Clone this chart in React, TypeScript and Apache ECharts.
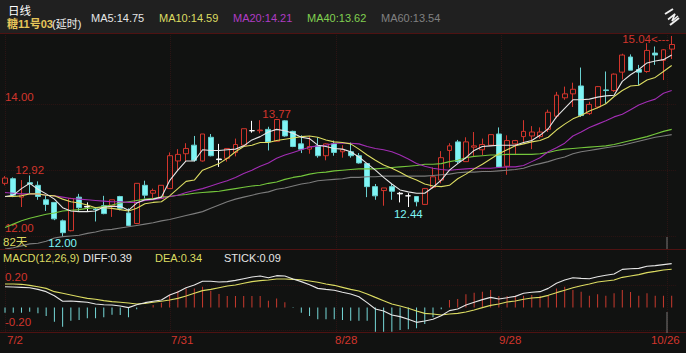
import React, { useEffect, useRef } from "react";
import * as echarts from "echarts";

const opens = [12.80,12.87,12.59,12.81,12.77,12.55,12.51,12.23,12.08,12.59,
  12.45,12.41,12.46,12.46,12.60,12.35,12.19,12.77,12.65,12.57,
  12.72,13.14,13.25,13.38,13.14,13.50,13.17,13.18,13.27,13.38,
  13.60,13.60,13.62,13.44,13.75,13.59,13.40,13.32,13.37,13.22,
  13.40,13.28,13.28,13.22,13.10,12.75,12.69,12.75,12.65,12.61,
  12.60,12.48,12.74,12.85,13.30,13.43,13.13,13.35,13.31,13.38,
  13.55,13.06,13.40,13.51,13.52,13.51,13.62,13.82,14.10,14.16,
  14.28,13.86,13.96,14.22,14.21,14.49,14.72,14.53,14.50,14.78,
  14.67,14.84];
const closes = [12.88,12.62,12.62,12.79,12.60,12.48,12.26,12.05,12.57,12.43,
  12.44,12.40,12.34,12.55,12.42,12.16,12.80,12.62,12.69,12.77,
  13.22,13.24,13.33,13.15,13.55,13.22,13.16,13.33,13.39,13.63,
  13.60,13.61,13.43,13.77,13.52,13.36,13.32,13.36,13.22,13.40,
  13.27,13.31,13.22,13.11,12.75,12.61,12.73,12.68,12.64,12.61,
  12.52,12.72,12.90,13.19,13.37,13.13,13.43,13.37,13.39,13.54,
  13.05,13.45,13.45,13.59,13.58,13.58,13.88,14.14,14.16,14.23,
  13.83,14.00,14.27,14.21,14.46,14.75,14.52,14.49,14.82,14.75,
  14.83,14.91];
const lows = [12.77,12.59,12.44,12.65,12.55,12.38,12.24,12.00,12.07,12.38,
  12.37,12.22,12.33,12.29,12.39,12.15,12.18,12.57,12.57,12.57,
  12.72,12.99,13.13,13.13,13.13,13.21,13.05,13.13,13.21,13.38,
  13.57,13.56,13.30,13.44,13.51,13.35,13.26,13.25,13.19,13.15,
  13.22,13.19,13.19,13.10,12.59,12.55,12.46,12.55,12.51,12.44,
  12.45,12.47,12.72,12.80,13.04,13.10,13.13,13.21,13.23,13.38,
  13.05,12.93,13.23,13.43,13.32,13.48,13.58,13.79,14.07,13.96,
  13.81,13.84,13.94,14.01,14.19,14.38,14.52,14.29,14.48,14.60,
  14.37,14.69];
const highs = [12.91,12.89,12.85,12.92,12.83,12.62,12.51,12.25,12.58,12.64,
  12.51,12.43,12.61,12.55,12.61,12.42,12.80,12.84,12.72,12.77,
  13.27,13.32,13.41,13.52,13.55,13.55,13.40,13.33,13.48,13.63,
  13.75,13.76,13.66,13.77,13.76,13.60,13.53,13.51,13.50,13.41,
  13.45,13.38,13.42,13.26,13.10,12.79,12.73,12.79,12.67,12.65,
  12.60,12.73,13.04,13.29,13.41,13.46,13.50,13.58,13.48,13.54,
  13.65,13.53,13.46,13.76,13.67,13.65,13.92,14.19,14.27,14.33,
  14.56,14.04,14.28,14.50,14.47,14.77,14.76,14.60,14.93,14.88,
  14.84,15.04];
const whiteDoji = [10, 26, 30, 48, 49];

const ma5 = [12.60,12.62,12.72,12.80,12.71,12.64,12.56,12.43,12.38,12.37,
  12.37,12.38,12.44,12.45,12.45,12.39,12.50,12.55,12.56,12.59,
  12.84,13.00,13.14,13.14,13.31,13.30,13.30,13.31,13.32,13.37,
  13.46,13.51,13.58,13.62,13.60,13.56,13.50,13.48,13.38,13.36,
  13.33,13.32,13.28,13.20,13.10,13.00,12.89,12.79,12.70,12.67,
  12.65,12.65,12.74,12.85,13.00,13.10,13.19,13.30,13.36,13.37,
  13.38,13.38,13.38,13.42,13.45,13.53,13.63,13.81,13.94,14.07,
  14.07,14.08,14.11,14.13,14.14,14.35,14.45,14.53,14.63,14.66,
  14.68,14.75];
const ma10 = [12.60,12.60,12.61,12.64,12.64,12.62,12.61,12.56,12.52,12.50,
  12.47,12.43,12.43,12.42,12.40,12.38,12.42,12.49,12.51,12.52,
  12.61,12.72,12.83,12.85,13.00,13.05,13.10,13.18,13.28,13.36,
  13.38,13.42,13.42,13.45,13.47,13.49,13.51,13.52,13.50,13.46,
  13.43,13.42,13.40,13.32,13.23,13.15,13.08,13.03,12.97,12.90,
  12.85,12.79,12.76,12.75,12.77,12.87,12.94,13.02,13.09,13.17,
  13.25,13.31,13.37,13.40,13.43,13.45,13.50,13.61,13.70,13.78,
  13.83,13.90,13.95,14.01,14.12,14.21,14.28,14.29,14.37,14.41,
  14.50,14.59];
const ma20 = [12.66,12.65,12.64,12.64,12.64,12.62,12.61,12.59,12.57,12.56,
  12.55,12.54,12.53,12.52,12.52,12.51,12.51,12.54,12.55,12.57,
  12.60,12.62,12.66,12.69,12.72,12.76,12.80,12.84,12.89,12.95,
  13.00,13.06,13.11,13.18,13.23,13.27,13.31,13.35,13.37,13.38,
  13.41,13.41,13.41,13.40,13.36,13.33,13.31,13.28,13.23,13.17,
  13.10,13.06,13.03,13.01,13.00,13.01,13.02,13.03,13.03,13.03,
  13.04,13.05,13.05,13.07,13.13,13.19,13.28,13.34,13.41,13.52,
  13.58,13.65,13.70,13.75,13.81,13.85,13.92,13.99,14.04,14.08,
  14.17,14.21];
const ma40 = [12.13,12.18,12.23,12.27,12.30,12.33,12.35,12.38,12.39,12.40,
  12.42,12.43,12.45,12.47,12.50,12.52,12.54,12.56,12.57,12.59,
  12.60,12.62,12.63,12.65,12.66,12.67,12.68,12.70,12.72,12.74,
  12.76,12.77,12.80,12.82,12.86,12.89,12.91,12.94,12.96,12.97,
  12.99,13.00,13.01,13.02,13.02,13.02,13.03,13.04,13.05,13.06,
  13.07,13.09,13.09,13.10,13.13,13.15,13.19,13.21,13.22,13.23,
  13.23,13.24,13.24,13.24,13.24,13.25,13.27,13.30,13.32,13.33,
  13.34,13.35,13.36,13.37,13.39,13.42,13.45,13.48,13.51,13.55,
  13.59,13.62];
const ma60 = [11.80,11.82,11.85,11.88,11.89,11.92,11.97,11.99,12.00,12.01,
  12.04,12.06,12.09,12.10,12.12,12.14,12.16,12.18,12.20,12.23,
  12.25,12.28,12.31,12.34,12.37,12.42,12.47,12.52,12.56,12.59,
  12.62,12.65,12.67,12.71,12.73,12.76,12.79,12.81,12.84,12.85,
  12.86,12.87,12.89,12.89,12.90,12.90,12.91,12.91,12.91,12.91,
  12.91,12.91,12.92,12.93,12.94,12.96,12.97,12.97,12.98,12.98,
  12.99,13.00,13.01,13.03,13.07,13.10,13.13,13.17,13.20,13.25,
  13.28,13.30,13.32,13.34,13.36,13.38,13.41,13.44,13.47,13.50,
  13.52,13.54];

const stick = [-0.046,-0.046,-0.046,-0.037,-0.052,-0.076,-0.126,-0.17,-0.117,-0.111,
  -0.096,-0.096,-0.087,-0.064,-0.067,-0.087,-0.016,0.003,0.022,0.043,
  0.111,0.15,0.17,0.17,0.185,0.15,0.12,0.102,0.102,0.102,
  0.102,0.102,0.06,0.08,0.046,-0.004,-0.046,-0.076,-0.105,-0.105,
  -0.105,-0.111,-0.117,-0.117,-0.117,-0.215,-0.215,-0.215,-0.2,-0.194,
  -0.185,-0.147,-0.087,-0.016,0.067,0.076,0.117,0.132,0.141,0.156,
  0.102,0.102,0.105,0.105,0.111,0.105,0.111,0.17,0.185,0.156,
  0.141,0.105,0.117,0.105,0.126,0.156,0.138,0.105,0.126,0.105,
  0.105,0.105];
const diff = [0.185,0.182,0.179,0.176,0.161,0.141,0.105,0.055,0.058,0.052,
  0.046,0.031,0.025,0.022,0.013,-0.001,0.025,0.043,0.055,0.067,
  0.111,0.138,0.176,0.2,0.233,0.233,0.227,0.23,0.241,0.256,
  0.271,0.28,0.265,0.283,0.28,0.253,0.23,0.203,0.17,0.161,
  0.153,0.135,0.12,0.096,0.043,-0.013,-0.031,-0.067,-0.081,-0.105,
  -0.132,-0.12,-0.105,-0.073,-0.028,-0.013,0.022,0.046,0.07,0.09,
  0.076,0.087,0.099,0.126,0.135,0.141,0.17,0.215,0.244,0.265,
  0.259,0.256,0.274,0.286,0.298,0.339,0.345,0.348,0.366,0.372,
  0.381,0.39];
const dea = [0.209,0.209,0.206,0.197,0.185,0.17,0.141,0.126,0.111,0.096,
  0.081,0.073,0.061,0.052,0.046,0.04,0.031,0.037,0.046,0.055,
  0.067,0.081,0.102,0.126,0.15,0.161,0.176,0.191,0.2,0.215,
  0.23,0.239,0.244,0.253,0.253,0.25,0.247,0.236,0.224,0.209,
  0.197,0.179,0.161,0.147,0.12,0.09,0.061,0.031,0.013,-0.007,
  -0.031,-0.052,-0.058,-0.067,-0.058,-0.052,-0.04,-0.022,-0.001,0.019,
  0.031,0.049,0.058,0.073,0.084,0.09,0.108,0.132,0.153,0.176,
  0.194,0.209,0.227,0.236,0.244,0.268,0.28,0.292,0.31,0.321,
  0.333,0.34];

const xTickLabels = ["7/2", "7/31", "8/28", "9/28", "10/26"];
const xLabelAt = [0.012, 1.003, 1.994, 2.985, 3.903];
const priceLabels = [12, 14];
const macdLabels = [-0.2, 0.2];

const RED = "#d2352c";
const CYAN = "#7ff5f5";
const WHITE = "#e6e6e6";
const YELLOW = "#dcdc62";
const PURPLE = "#a22db4";
const GREEN = "#74c63c";
const GRAY = "#7c7c7c";
const FONT = "'Liberation Sans','Noto Sans CJK SC',sans-serif";
const GRID_DOT = "#2c1414";
const GRID_SOLID = "#4e1212";

const categories = opens.map((_, i) => String(i));

function label(text: string, x: number, y: number, fill: string, fontSize = 11, fontWeight = "normal") {
  return {
    type: "text",
    x,
    y,
    z: 10,
    style: { text, fill, fontSize, fontWeight, fontFamily: FONT, textVerticalAlign: "middle" },
  };
}
function rule(x1: number, y1: number, x2: number, y2: number, stroke: string, lineWidth = 1) {
  return { type: "line", z: 5, shape: { x1, y1, x2, y2 }, style: { stroke, lineWidth } };
}

export default function App() {
  const ref = useRef<HTMLDivElement>(null);
  useEffect(() => {
    const chart = echarts.init(ref.current!, null, { renderer: "svg" });
    const candleData = opens.map((o, i) => {
      const value = [o, closes[i], lows[i], highs[i]];
      if (whiteDoji.includes(i)) {
        return { value, itemStyle: { color: "#ffffff", color0: "#ffffff", borderColor: "#ffffff", borderColor0: "#ffffff" } };
      }
      return { value };
    });
    const mark = (idx: number, val: number, text: string, color: string, position: string, extra = {}) => ({
      coord: [idx, val],
      value: val,
      label: { show: true, formatter: text, color, position, distance: 0, fontSize: 11.5, fontFamily: FONT, ...extra },
    });
    const lineSeries = (name: string, data: number[], color: string, x: number, width = 1.1) => ({
      name,
      type: "line",
      data,
      xAxisIndex: x,
      yAxisIndex: x,
      showSymbol: false,
      symbol: "none",
      silent: true,
      lineStyle: { color, width },
      z: 4,
    });
    chart.setOption({
      animation: false,
      backgroundColor: "#111211",
      textStyle: { fontFamily: FONT },
      grid: [
        { left: 0.9, width: 674.9, top: 33, height: 216 },
        { left: 0.9, width: 674.9, top: 249, height: 83.5 },
        { left: 5, width: 662, top: 33, height: 299.5 },
      ],
      xAxis: [
        { type: "category", gridIndex: 0, data: categories, axisLine: { show: false }, axisTick: { show: false }, axisLabel: { show: false }, splitLine: { show: false } },
        { type: "category", gridIndex: 1, data: categories, axisLine: { show: false }, axisTick: { show: false }, axisLabel: { show: false }, splitLine: { show: false } },
        {
          type: "value", gridIndex: 2, min: 0, max: 4, interval: 1,
          axisLine: { show: false }, axisTick: { show: false },
          splitLine: { show: true, lineStyle: { color: GRID_DOT, type: "dotted", width: 1 } },
          axisLabel: {
            show: true,
            customValues: xLabelAt,
            formatter: (v: number) => xTickLabels[xLabelAt.indexOf(v)],
            color: RED, fontSize: 11.5, align: "left", margin: 2,
          },
        },
      ],
      yAxis: [
        {
          type: "value", gridIndex: 0, min: 11.802, max: 15.085,
          axisLine: { show: false },
          axisTick: { show: false, customValues: [12, 13, 14] },
          splitLine: { show: true, lineStyle: { color: GRID_DOT, type: "dotted", width: 1 } },
          axisLabel: {
            show: true, inside: true, margin: 4, customValues: priceLabels,
            formatter: (v: number) => v.toFixed(2),
            color: RED, fontSize: 11.5, verticalAlign: "bottom", padding: [0, 0, 2, 0],
          },
        },
        {
          type: "value", gridIndex: 1, min: -0.2222, max: 0.52,
          axisLine: { show: false },
          axisTick: { show: false, customValues: macdLabels },
          splitLine: { show: true, lineStyle: { color: GRID_DOT, type: "dotted", width: 1 } },
          axisLabel: {
            show: true, inside: true, margin: 4, customValues: macdLabels,
            formatter: (v: number) => v.toFixed(2),
            color: RED, fontSize: 11.5, verticalAlign: "bottom", padding: [0, 0, 2, 0],
          },
        },
        { type: "value", gridIndex: 2, min: 0, max: 1, show: false },
      ],
      series: [
        {
          name: "K",
          type: "candlestick",
          xAxisIndex: 0,
          yAxisIndex: 0,
          data: candleData,
          barWidth: 5.4,
          z: 3,
          itemStyle: { color: "transparent", color0: CYAN, borderColor: RED, borderColor0: "#69d0d0", borderWidth: 1 },
          markPoint: {
            symbol: "circle",
            symbolSize: 0,
            silent: true,
            data: [
              mark(3, 12.92, "12.92", RED, "top"),
              mark(33, 13.77, "13.77", RED, "top"),
              mark(49, 12.44, "12.44", CYAN, "bottom", { offset: [0, 1] }),
              mark(7, 12.0, "12.00", CYAN, "bottom", { offset: [0, 1] }),
              mark(81, 15.04, "15.04<---", RED, "left", { distance: 2.5, offset: [0, 3] }),
            ],
          },
        },
        lineSeries("MA60", ma60, GRAY, 0),
        lineSeries("MA40", ma40, GREEN, 0),
        lineSeries("MA20", ma20, PURPLE, 0),
        lineSeries("MA10", ma10, YELLOW, 0),
        lineSeries("MA5", ma5, WHITE, 0),
        {
          name: "STICK",
          type: "bar",
          xAxisIndex: 1,
          yAxisIndex: 1,
          data: stick,
          barWidth: 1,
          silent: true,
          itemStyle: { color: (p: any) => (p.value >= 0 ? "#c83a2e" : "#76d8d8") },
          z: 3,
        },
        lineSeries("DEA", dea, YELLOW, 1),
        lineSeries("DIFF", diff, WHITE, 1),
      ],
      graphic: [
        { type: "rect", z: -1, shape: { x: 0, y: 0, width: 686, height: 33 }, style: { fill: "#202020" } },
        rule(0, 33.5, 686, 33.5, GRID_SOLID),
        rule(0, 249.5, 686, 249.5, GRID_SOLID),
        rule(0, 332.5, 686, 332.5, GRID_SOLID),
        rule(667, 237, 667, 249, "#777777"),
        rule(667, 312, 667, 333, "#777777"),
        label("日线", 8, 11, "#ffffff", 11.5),
        label("糖11号03", 7, 23.5, "#e6c65a", 11, "bold"),
        label("(延时)", 52, 23.5, "#eeeeee", 11),
        label("MA5:14.75", 91, 18, WHITE),
        label("MA10:14.59", 159, 18, YELLOW),
        label("MA20:14.21", 233, 18, "#b03cc4"),
        label("MA40:13.62", 307, 18, "#80d050"),
        label("MA60:13.54", 381, 18, "#808080"),
        label("82天", 3, 242, YELLOW, 11.5),
        label("MACD(12,26,9)", 3, 257.5, YELLOW),
        label("DIFF:0.39", 83, 257.5, WHITE),
        label("DEA:0.34", 155, 257.5, YELLOW),
        label("STICK:0.09", 224, 257.5, WHITE),
        rule(665, 14, 673, 9, "#f0f0f0", 2),
        rule(670, 25, 679, 18, "#f0f0f0", 2),
        {
          type: "polyline",
          z: 5,
          shape: { points: [[668, 19.5], [675, 14], [672, 21], [678, 16]] },
          style: { stroke: "#f0f0f0", fill: "none", lineWidth: 1.6 },
        },
      ],
    });
    return () => chart.dispose();
  }, []);
  return <div ref={ref} style={{ position: "fixed", left: 0, top: 0, width: 686, height: 353 }} />;
}
